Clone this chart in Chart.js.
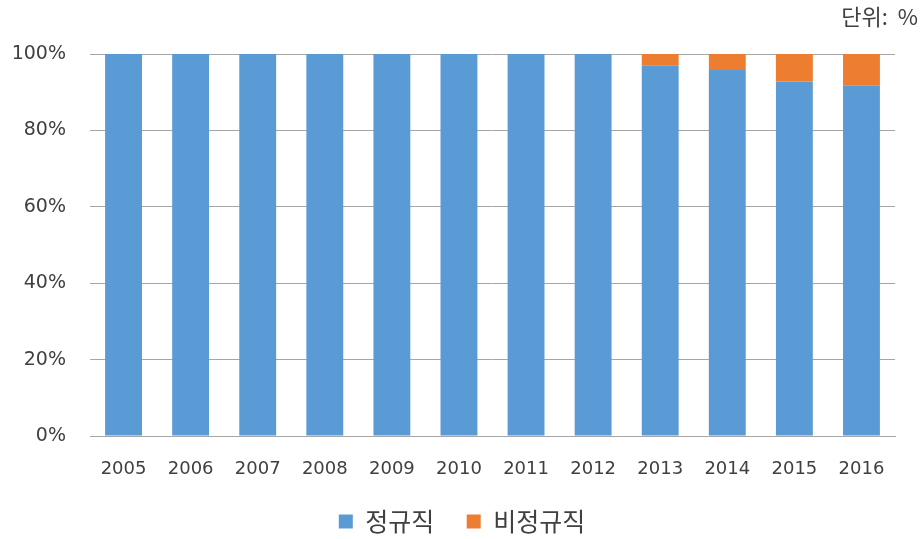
<!DOCTYPE html>
<html>
<head>
<meta charset="utf-8">
<script src="https://cdn.jsdelivr.net/npm/chart.js@4"></script>
<style>
  html, body { margin: 0; padding: 0; background: #fff; }
  #wrap { width: 924px; height: 539px; }
</style>
</head>
<body>
<div id="wrap"><canvas id="barChart" width="924" height="539"></canvas></div>
<script>
const years = ['2005', '2006', '2007', '2008', '2009', '2010', '2011', '2012', '2013', '2014', '2015', '2016'];
const regular = [100, 100, 100, 100, 100, 100, 100, 100, 96.9, 95.8, 92.8, 91.7];
const irregular = [0, 0, 0, 0, 0, 0, 0, 0, 3.1, 4.2, 7.2, 8.3];
const yTicks = [0, 20, 40, 60, 80, 100];

const font = '"Noto Sans CJK KR", sans-serif';
const numFont = '"DejaVu Sans", sans-serif';

// 단위 표시 + 범례 위치 조정
const unitLabel = {
  id: 'unitLabel',
  afterLayout(chart) {
    chart.legend.top += 5;
    chart.legend.bottom += 5;
  },
  afterDraw(chart) {
    const c = chart.ctx;
    c.save();
    c.font = '22px ' + font;
    c.fillStyle = '#404040';
    c.textAlign = 'right';
    c.textBaseline = 'middle';
    c.fillText('단위:  %', 918, 17);
    c.restore();
  }
};

const ctx = document.getElementById('barChart').getContext('2d');
const chart = new Chart(ctx, {
  type: 'bar',
  data: {
    labels: years,
    datasets: [
      { label: '정규직', data: regular, backgroundColor: '#5b9bd5', barPercentage: 0.55, categoryPercentage: 1 },
      { label: '비정규직', data: irregular, backgroundColor: '#ed7d31', barPercentage: 0.55, categoryPercentage: 1 }
    ]
  },
  options: {
    responsive: false,
    animation: false,
    layout: { padding: { top: 54, right: 0, left: 0, bottom: 0 } },
    plugins: {
      legend: {
        position: 'bottom',
        labels: {
          font: { family: font, size: 25 },
          color: '#404040',
          boxWidth: 14,
          boxHeight: 14,
          padding: 10,
          generateLabels(chart) {
            const items = Chart.defaults.plugins.legend.labels.generateLabels(chart);
            items[0].text += '    ';
            return items;
          }
        }
      },
      tooltip: { enabled: false }
    },
    scales: {
      x: {
        stacked: true,
        grid: { display: false, drawTicks: false },
        border: { display: true, color: '#a6a6a6' },
        ticks: { font: { family: numFont, size: 18 }, color: '#404040', padding: 23 },
        afterFit(s) { s.height = 58; }
      },
      y: {
        stacked: true,
        min: 0,
        max: 100,
        afterBuildTicks(s) { s.ticks = yTicks.map(v => ({ value: v })); },
        grid: { color: '#a6a6a6', drawTicks: false },
        border: { display: false },
        ticks: {
          font: { family: numFont, size: 19 },
          color: '#404040',
          padding: 24,
          callback: v => v + '%'
        },
        afterFit(s) { s.width = 90; }
      },
      // 오른쪽 여백용
      yRight: {
        position: 'right',
        display: true,
        grid: { display: false, drawTicks: false },
        border: { display: false },
        ticks: { display: false },
        afterFit(s) { s.width = 29; }
      }
    }
  },
  plugins: [unitLabel]
});
</script>
</body>
</html>
